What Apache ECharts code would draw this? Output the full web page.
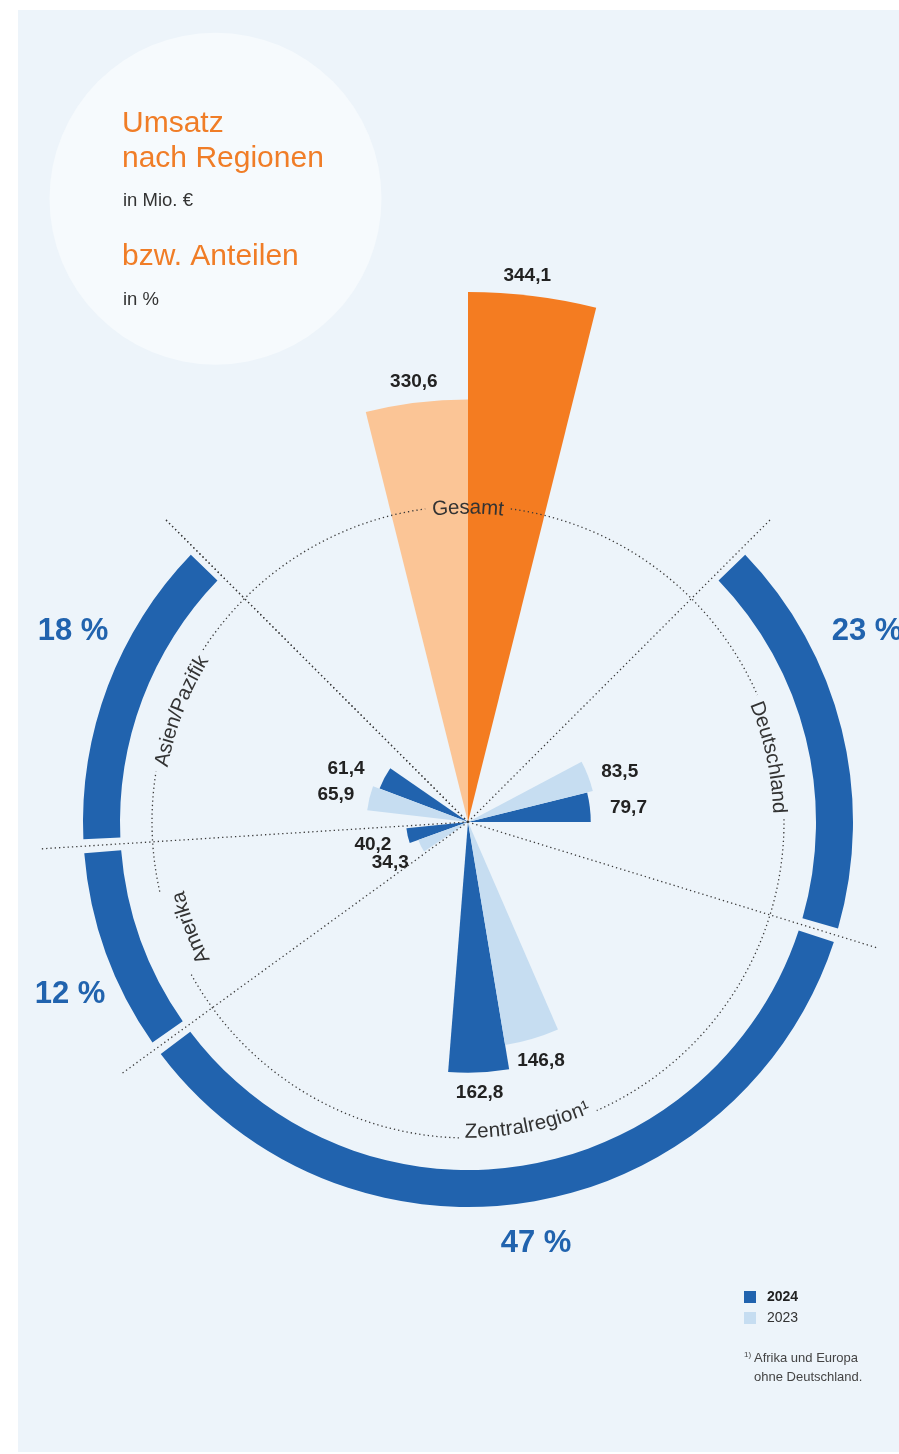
<!DOCTYPE html>
<html><head><meta charset="utf-8">
<script src="https://cdn.jsdelivr.net/npm/echarts@6/dist/echarts.min.js"></script>
<style>html,body{margin:0;padding:0;background:#fff}#c{width:899px;height:1454px}</style>
</head><body><div id="c"></div>
<script>
// ---------- DATA ----------
const categories = ['Gesamt', 'Deutschland', 'Zentralregion¹', 'Amerika', 'Asien/Pazifik'];
const years = ['2024', '2023'];
const values2024 = [344.1, 79.7, 162.8, 40.2, 61.4];
const values2023 = [330.6, 83.5, 146.8, 34.3, 65.9];
const regionShares = [23, 47, 12, 18]; // Deutschland, Zentralregion, Amerika, Asien/Pazifik (in %)
const titleLines = ['Umsatz', 'nach Regionen'];
const unitMio = 'in Mio. €';
const title2 = 'bzw. Anteilen';
const unitPct = 'in %';
const footnote = ['Afrika und Europa', 'ohne Deutschland.'];

// ---------- LAYOUT / STYLE ----------
const FONT = '"Liberation Sans", Arial, sans-serif';
const CX = 468, CY = 822;
const RAD = Math.PI / 180;
const BLUE = '#2163ae', LBLUE = '#c6ddf1', ORANGE = '#f47c21', LORANGE = '#fbc596';
const BAR_DEG = 14;
const GESAMT_SPAN = 90;
const RING_SPAN = 360 - GESAMT_SPAN;
const DOT_R = 316, LINE_R = 427;
const LABEL_R = [314, 311, 310, 298, 311];
const LABEL_DA = [0, -1.85, 1.75, 1.0, -0.4];
const SHARE_POS = [[867, 631], [536, 1243], [70, 994], [73, 631]];
const NUDGE = [
  [[-8, 2], [3, 5], [0, 0], [0, 1], [-8, 7]],   // 2024 value labels
  [[0, 1], [-1, 8], [2, -2], [0, 1], [1, 5]]    // 2023 value labels
];

// sectors (math angles, counter-clockwise positive)
const sectors = [{ a0: 90 - GESAMT_SPAN / 2, a1: 90 + GESAMT_SPAN / 2 }];
let cur = 90 - GESAMT_SPAN / 2;
regionShares.forEach(s => {
  const span = s / 100 * RING_SPAN;
  sectors.push({ a0: cur - span, a1: cur });
  cur -= span;
});
sectors.forEach(s => s.c = (s.a0 + s.a1) / 2);

const fmt = v => v.toFixed(1).replace('.', ',');

const ctx = document.createElement('canvas').getContext('2d');
function textW(str, font) { ctx.font = font; return ctx.measureText(str).width; }

function barRender(params, api) {
  const a0 = api.value(0), a1 = api.value(1), v = api.value(2), idx = api.value(3), yr = api.value(4);
  const cs = params.coordSys;
  const cx = cs.cx, cy = cs.cy;
  const am = (a0 + a1) / 2;
  const p = api.coord([v, am]);
  const r = Math.hypot(p[0] - cx, p[1] - cy);
  let col;
  if (idx === 0) col = yr === 0 ? ORANGE : LORANGE; else col = yr === 0 ? BLUE : LBLUE;
  const pad = 20 + 16 * Math.abs(Math.cos(am * RAD));
  const lr = r + pad;
  const nd = NUDGE[yr][idx];
  return {
    type: 'group',
    children: [
      { type: 'sector', shape: { cx: cx, cy: cy, r0: 0, r: r, startAngle: -a1 * RAD, endAngle: -a0 * RAD, clockwise: true }, style: { fill: col } },
      { type: 'text', x: cx + lr * Math.cos(am * RAD) + nd[0], y: cy - lr * Math.sin(am * RAD) + nd[1], z2: 10,
        style: { text: fmt(v), font: 'bold 19px ' + FONT, fill: '#222', align: 'center', verticalAlign: 'middle' } }
    ]
  };
}

function barData(vals, yr, which) {
  return vals.map((v, i) => {
    const s = sectors[i];
    const a0 = yr === 0 ? s.c - BAR_DEG : s.c;
    const a1 = yr === 0 ? s.c : s.c + BAR_DEG;
    return [a0, a1, v, i, yr];
  }).filter((d, i) => which(i));
}

// ---------- graphic elements ----------
const graphics = [];
graphics.push({ type: 'rect', z: -100, shape: { x: 18, y: 10, width: 900, height: 1442 }, style: { fill: '#edf4fa' } });
graphics.push({ type: 'circle', z: -99, shape: { cx: 215.5, cy: 198.7, r: 166 }, style: { fill: '#f6fafd' } });

function txt(str, x, y, font, fill, align, extra) {
  return Object.assign({ type: 'text', x: x, y: y, z: 20,
    style: { text: str, font: font, fill: fill, align: align || 'left', verticalAlign: 'middle', textAlign: align || 'left', textVerticalAlign: 'middle' } }, extra || {});
}
graphics.push(txt(titleLines[0], 122, 124, '30px ' + FONT, '#f07d27'));
graphics.push(txt(titleLines[1], 122, 159, '30px ' + FONT, '#f07d27'));
graphics.push(txt(unitMio, 123, 201, '18.5px ' + FONT, '#333'));
graphics.push(txt(title2, 122, 257, '30px ' + FONT, '#f07d27'));
graphics.push(txt(unitPct, 123, 300, '18.5px ' + FONT, '#333'));

// share labels
regionShares.forEach((s, i) => {
  graphics.push(txt(s + ' %', SHARE_POS[i][0], SHARE_POS[i][1], 'bold 31px ' + FONT, BLUE, 'center'));
});

// footnote
graphics.push(txt('1)', 744, 1355, '8px ' + FONT, '#444'));
graphics.push(txt(footnote[0], 754, 1358, '13px ' + FONT, '#444'));
graphics.push(txt(footnote[1], 754, 1377, '13px ' + FONT, '#444'));

// dotted sector boundary lines
const DOT_STYLE = { stroke: '#3a3a3a', lineWidth: 1.3, lineDash: [1.3, 3], fill: null };
const bounds = [sectors[0].a0, sectors[0].a1];
for (let i = 1; i < sectors.length; i++) bounds.push(sectors[i].a0);
bounds.forEach(a => {
  graphics.push({ type: 'line', z: 5, shape: { x1: CX, y1: CY, x2: CX + LINE_R * Math.cos(a * RAD), y2: CY - LINE_R * Math.sin(a * RAD) }, style: DOT_STYLE });
});

// curved category labels + dotted circle with gaps
const LABEL_FONT = '20.5px ' + FONT;
const gaps = [];
categories.forEach((name, i) => {
  const th = sectors[i].c + LABEL_DA[i];
  const R = LABEL_R[i];
  const W = textW(name, LABEL_FONT);
  const inward = i === 2; // bottom label reads counter-clockwise with tops to centre
  gaps.push([th, (W / 2 + 7) / DOT_R / RAD]);
  for (let k = 0; k < name.length; k++) {
    const s = (textW(name.slice(0, k), LABEL_FONT) + textW(name.slice(0, k + 1), LABEL_FONT)) / 2;
    let phi, rot;
    if (!inward) { phi = th + (W / 2 - s) / R / RAD; rot = (phi - 90) * RAD; }
    else { phi = th - (W / 2 - s) / R / RAD; rot = (phi + 90) * RAD; }
    graphics.push({ type: 'text', z: 21, x: CX + R * Math.cos(phi * RAD), y: CY - R * Math.sin(phi * RAD), rotation: rot,
      style: { text: name[k], font: LABEL_FONT, fill: '#333', align: 'center', verticalAlign: 'middle', textAlign: 'center', textVerticalAlign: 'middle' } });
  }
});
// arcs between gaps (math angles, normalised)
const gs = gaps.map(g => { let c = ((g[0] % 360) + 360) % 360; return [c - g[1], c + g[1]]; }).sort((a, b) => a[0] - b[0]);
for (let i = 0; i < gs.length; i++) {
  const b0 = gs[i][1];
  const b1 = i + 1 < gs.length ? gs[i + 1][0] : gs[0][0] + 360;
  graphics.push({ type: 'arc', z: 5, shape: { cx: CX, cy: CY, r: DOT_R, startAngle: -b1 * RAD, endAngle: -b0 * RAD, clockwise: true }, style: DOT_STYLE });
}

// ---------- chart ----------
const chart = echarts.init(document.getElementById('c'), null, { renderer: 'canvas' });
chart.setOption({
  animation: false,
  backgroundColor: '#ffffff',
  polar: [
    { center: [CX, CY], radius: 616 },
    { center: [CX, CY], radius: 616 }
  ],
  radiusAxis: [
    { polarIndex: 0, type: 'value', min: 0, max: 400, show: false },
    { polarIndex: 1, type: 'value', min: 0, max: 482, show: false }
  ],
  angleAxis: [
    { polarIndex: 0, type: 'value', min: 0, max: 360, startAngle: 0, clockwise: false, show: false },
    { polarIndex: 1, type: 'value', min: 0, max: 360, startAngle: 0, clockwise: false, show: false }
  ],
  legend: {
    orient: 'vertical', left: 744, top: 1290, padding: 0, itemWidth: 12, itemHeight: 12, itemGap: 7, icon: 'rect',
    selectedMode: false,
    textStyle: { fontFamily: FONT, fontSize: 14, color: '#333', padding: [0, 0, 0, 6] },
    data: [{ name: years[0], textStyle: { fontWeight: 'bold', color: '#222' } }, { name: years[1] }]
  },
  graphic: { elements: graphics },
  series: [
    {
      type: 'pie', name: 'Anteile', center: [CX, CY], radius: [348, 385], startAngle: 90 - GESAMT_SPAN / 2, endAngle: 90 - GESAMT_SPAN / 2 - RING_SPAN,
      clockwise: true, padAngle: 2.1, silent: true, z: 2, label: { show: false }, labelLine: { show: false },
      itemStyle: { color: BLUE }, emphasis: { disabled: true },
      data: regionShares.map((s, i) => ({ name: categories[i + 1], value: s }))
    },
    {
      type: 'custom', name: years[0], coordinateSystem: 'polar', polarIndex: 0, z: 3, itemStyle: { color: BLUE },
      encode: { radius: 2, angle: 0 }, renderItem: barRender,
      data: barData(values2024, 0, () => true)
    },
    {
      type: 'custom', name: years[1], coordinateSystem: 'polar', polarIndex: 0, z: 3, itemStyle: { color: LBLUE },
      encode: { radius: 2, angle: 0 }, renderItem: barRender,
      data: barData(values2023, 1, i => i > 0)
    },
    {
      type: 'custom', name: years[1], coordinateSystem: 'polar', polarIndex: 1, z: 3, itemStyle: { color: LBLUE },
      encode: { radius: 2, angle: 0 }, renderItem: barRender,
      data: barData(values2023, 1, i => i === 0)
    }
  ]
});
</script>
</body></html>
